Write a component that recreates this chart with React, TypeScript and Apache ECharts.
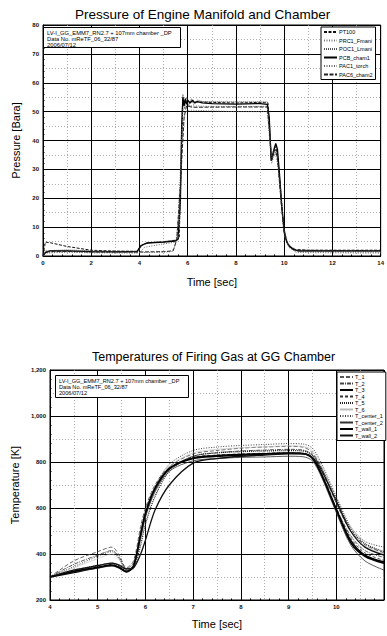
import React, { useEffect, useRef } from "react";
import * as echarts from "echarts";

// ---------- Top chart: pressure ----------
const pressureTitle = "Pressure of Engine Manifold and Chamber";
const pressureNames = ["PT100", "PRC1_Fmani", "POC1_Lmani", "PCB_cham1", "PAC1_torch", "PAC6_cham2"];
const PT100: number[][] = [[0,0.3],[0.1,4.8],[0.3,4.6],[1,3.3],[2,2.0],[3,1.7],[3.9,1.6],[4.1,3.8],[4.4,4.6],[5,4.9],[5.5,5.4],[5.65,6.2],[5.72,30],[5.8,53],[5.9,54],[6,53.5],[7,53.2],[8,53],[9,53.2],[9.33,53],[9.42,40],[9.48,33],[9.6,37],[9.66,38],[9.75,33],[9.88,20],[10.0,8],[10.15,4],[10.4,2.3],[11,2],[14,2]];
const PRC1_Fmani: number[][] = [[0,0],[0.15,1.2],[1,1.5],[2,1.3],[4,1.2],[5,1.3],[5.35,1.5],[5.5,4],[5.6,12],[5.7,30],[5.8,45],[5.9,50],[6.1,50.5],[8,50],[9.3,50],[9.4,40],[9.48,32],[9.62,36],[9.75,31],[9.9,16],[10.0,7],[10.2,3],[10.5,1.5],[14,1.3]];
const POC1_Lmani: number[][] = [[0,0],[0.1,1.8],[1,2.1],[2,1.8],[3,1.6],[3.95,1.7],[4.15,4.2],[4.5,4.7],[5,5],[5.55,5.6],[5.68,15],[5.75,45],[5.8,56],[5.87,51],[5.95,55],[6.05,52],[6.15,54.5],[6.25,52.5],[6.4,54],[6.6,53.5],[8,53.4],[9.3,53.4],[9.4,45],[9.47,34],[9.6,38],[9.7,37],[9.82,26],[9.95,13],[10.05,6],[10.3,2.5],[10.6,1.6],[14,1.5]];
const PCB_cham1: number[][] = [[0,0],[0.1,1.2],[0.3,1.8],[1,1.8],[2,1.5],[3,1.4],[3.9,1.5],[4.05,3.5],[4.3,4.5],[5,4.8],[5.5,5.2],[5.6,5.8],[5.7,20],[5.75,45],[5.8,55],[5.85,52],[5.9,54.5],[5.95,52.5],[6.0,54],[6.1,53],[6.2,54],[6.3,53],[6.4,53.5],[6.6,53],[7,52.8],[8,52.6],[9,52.8],[9.3,52.5],[9.38,48],[9.46,33],[9.55,36],[9.65,39],[9.72,37],[9.8,29],[9.9,17],[10.0,9],[10.1,5],[10.2,3.5],[10.4,2.2],[10.6,1.8],[12,1.8],[14,1.8]];
const PAC1_torch: number[][] = [[0,0],[0.1,1],[1,1.3],[2,1.1],[4,1.0],[4.2,3],[5,4.2],[5.5,4.8],[5.65,8],[5.72,35],[5.8,51],[6,52],[7,51.8],[9.3,51.8],[9.4,42],[9.47,34],[9.6,37],[9.7,35],[9.85,22],[9.97,10],[10.2,3],[10.5,1.2],[14,1.0]];
const PAC6_cham2: number[][] = [[0,0],[0.1,1.5],[1,1.6],[2,1.4],[4,1.4],[5,1.5],[5.4,1.8],[5.55,6],[5.7,25],[5.85,48],[5.95,52],[6.2,51.5],[8,51.6],[9.3,51.6],[9.4,42],[9.47,33],[9.62,37],[9.72,34],[9.88,18],[10.0,8],[10.15,4],[10.5,2],[14,1.8]];
const pressureData = [PT100, PRC1_Fmani, POC1_Lmani, PCB_cham1, PAC1_torch, PAC6_cham2];
const pressureInfo = "LV-I_GG_EMM7_RN2.7 + 107mm chamber _DP\nData No. mReTF_06_32/87\n2006/07/12";

// ---------- Bottom chart: temperature ----------
const tempTitle = "Temperatures of Firing Gas at GG Chamber";
const tempNames = ["T_1", "T_2", "T_3", "T_4", "T_5", "T_6", "T_center_1", "T_center_2", "T_wall_1", "T_wall_2"];
const tempTime = [4, 4.5, 5, 5.3, 5.45, 5.6, 5.75, 5.9, 6.0, 6.2, 6.5, 7, 7.5, 8, 8.5, 9, 9.3, 9.5, 9.7, 10, 10.3, 10.6, 11];
const T_1 = [300, 370, 410, 430, 395, 340, 370, 520, 600, 700, 780, 835, 850, 860, 865, 868, 865, 840, 770, 620, 500, 440, 405];
const T_2 = [300, 355, 395, 415, 385, 335, 360, 500, 590, 690, 770, 825, 840, 848, 852, 855, 852, 830, 760, 600, 480, 415, 385];
const T_3 = [300, 320, 340, 350, 340, 322, 345, 480, 570, 680, 770, 815, 825, 830, 835, 838, 836, 815, 740, 590, 450, 390, 360];
const T_4 = [300, 325, 345, 355, 345, 325, 350, 490, 580, 690, 775, 820, 830, 835, 838, 840, 838, 820, 745, 600, 470, 405, 372];
const T_5 = [300, 330, 350, 360, 350, 330, 340, 440, 530, 650, 760, 825, 840, 845, 848, 850, 848, 830, 770, 640, 510, 445, 410];
const T_6 = [300, 340, 380, 400, 375, 330, 345, 470, 560, 680, 780, 840, 855, 862, 866, 870, 868, 850, 780, 630, 500, 435, 400];
const T_center_1 = [300, 345, 390, 410, 380, 335, 350, 480, 570, 690, 790, 850, 865, 872, 876, 880, 878, 860, 790, 650, 520, 455, 430];
const T_center_2 = [300, 322, 338, 348, 338, 322, 345, 470, 560, 670, 760, 805, 815, 820, 822, 825, 823, 805, 730, 580, 440, 370, 330];
const T_wall_1 = [300, 325, 342, 352, 342, 325, 348, 485, 575, 685, 772, 818, 828, 833, 836, 839, 837, 818, 742, 595, 460, 395, 365];
const T_wall_2 = [300, 330, 350, 360, 352, 335, 340, 400, 460, 590, 700, 795, 815, 825, 830, 835, 835, 820, 760, 630, 500, 430, 395];
const tempData = [T_1, T_2, T_3, T_4, T_5, T_6, T_center_1, T_center_2, T_wall_1, T_wall_2];
const tempInfo = "LV-I_GG_EMM7_RN2.7 + 107mm chamber _DP\nData No. mReTF_06_32/87\n2006/07/12";

const FONT = "Liberation Sans";

const pressureStyles = [
  { type: [3, 1.5], color: "#111", width: 1 },
  { type: [1, 1.5], color: "#777", width: 1 },
  { type: [1, 1], color: "#555", width: 1 },
  { type: "solid", color: "#000", width: 1.3 },
  { type: [1, 1.5], color: "#666", width: 1 },
  { type: [4, 1.5], color: "#222", width: 1 },
];
const tempStyles = [
  { type: [4, 2], color: "#555", width: 0.9 },
  { type: [4, 1, 1, 1], color: "#444", width: 0.9 },
  { type: "solid", color: "#000", width: 1.6 },
  { type: [3, 2], color: "#333", width: 0.9 },
  { type: [1, 1], color: "#222", width: 1.3 },
  { type: "solid", color: "#bbb", width: 0.6 },
  { type: [1, 1.5], color: "#444", width: 1 },
  { type: "solid", color: "#333", width: 0.8 },
  { type: "solid", color: "#000", width: 1.5 },
  { type: "solid", color: "#111", width: 1.3 },
];

export default function App() {
  const ref = useRef<HTMLDivElement>(null);
  useEffect(() => {
    if (!ref.current) return;
    const chart = echarts.init(ref.current, null, { renderer: "svg" });
    const axisLabel = { fontSize: 6, color: "#111", fontFamily: FONT, fontWeight: "bold" as const, margin: 4 };
    const minorSplit = { show: true, lineStyle: { color: "#999", type: [1, 2], width: 0.8 } };
    const majorSplit = { show: true, lineStyle: { color: "#000", width: 1 } };
    const hiddenBits = { axisLine: { show: false }, axisTick: { show: false }, axisLabel: { show: false } };
    const axisLine = { show: true, onZero: false, lineStyle: { color: "#000", width: 1 } };
    const axisTick = { show: true, inside: true, length: 3, lineStyle: { color: "#000" } };
    const minorTick = { show: true, splitNumber: 5, length: 1.5, lineStyle: { color: "#000" } };
    const nameStyle = { fontSize: 11, fontFamily: FONT, color: "#000" };

    const series: any[] = [];
    pressureNames.forEach((n, i) => {
      series.push({
        name: n, type: "line", xAxisIndex: 1, yAxisIndex: 1, data: pressureData[i],
        symbol: "none", lineStyle: pressureStyles[i], itemStyle: { color: pressureStyles[i].color },
      });
    });
    tempNames.forEach((n, i) => {
      series.push({
        name: n, type: "line", xAxisIndex: 3, yAxisIndex: 3, smooth: 0.3,
        data: tempTime.map((t, k) => [t, tempData[i][k]]),
        symbol: "none", lineStyle: tempStyles[i], itemStyle: { color: tempStyles[i].color },
      });
    });

    const legendCommon = {
      orient: "vertical", itemWidth: 13, backgroundColor: "#fff", borderColor: "#000", borderWidth: 1,
      itemStyle: { opacity: 0 }, padding: [2, 3, 2, 2],
    };

    chart.setOption({
      animation: false,
      backgroundColor: "#fff",
      title: [
        { text: pressureTitle, left: 70, top: 2, textStyle: { fontSize: 13.5, fontWeight: "normal", fontFamily: FONT, color: "#000" } },
        { text: tempTitle, left: 87, top: 345, textStyle: { fontSize: 12.5, fontWeight: "normal", fontFamily: FONT, color: "#000" } },
      ],
      grid: [
        { left: 43, top: 25, width: 339, height: 231, show: true, borderColor: "#000", borderWidth: 1 },
        { left: 50, top: 370, width: 341, height: 230, show: true, borderColor: "#000", borderWidth: 1 },
      ],
      xAxis: [
        { type: "value", gridIndex: 0, position: "top", min: 0, max: 14, interval: 1, splitLine: minorSplit, ...hiddenBits },
        { type: "value", gridIndex: 0, position: "bottom", min: 0, max: 14, interval: 2, splitLine: majorSplit, axisLine, axisTick, minorTick, axisLabel,
          name: "Time [sec]", nameLocation: "middle", nameGap: 20, nameTextStyle: nameStyle },
        { type: "value", gridIndex: 1, position: "top", min: 4, max: 11, interval: 0.5, splitLine: minorSplit, ...hiddenBits },
        { type: "value", gridIndex: 1, position: "bottom", min: 4, max: 11, interval: 1, splitLine: majorSplit, axisLine, axisTick, minorTick,
          axisLabel: { ...axisLabel, formatter: (v: number) => (v >= 11 ? "" : String(v)) },
          name: "Time [sec]", nameLocation: "middle", nameGap: 18, nameTextStyle: nameStyle },
      ],
      yAxis: [
        { type: "value", gridIndex: 0, position: "right", min: 0, max: 80, interval: 5, splitLine: minorSplit, ...hiddenBits },
        { type: "value", gridIndex: 0, position: "left", min: 0, max: 80, interval: 10, splitLine: majorSplit, axisLine, axisTick, minorTick, axisLabel,
          name: "Pressure [Bara]", nameLocation: "middle", nameGap: 19, nameTextStyle: nameStyle },
        { type: "value", gridIndex: 1, position: "right", min: 200, max: 1200, interval: 100, splitLine: minorSplit, ...hiddenBits },
        { type: "value", gridIndex: 1, position: "left", min: 200, max: 1200, interval: 200, splitLine: majorSplit, axisLine, axisTick, minorTick,
          axisLabel: { ...axisLabel, formatter: (v: number) => v.toLocaleString("en-US") },
          name: "Temperature [K]", nameLocation: "middle", nameGap: 24, nameTextStyle: nameStyle },
      ],
      legend: [
        { ...legendCommon, data: pressureNames, left: 321, top: 27, itemHeight: 6, itemGap: 2.5,
          textStyle: { fontSize: 5.5, fontFamily: FONT, color: "#000", padding: [0, 0, 0, -3] } },
        { ...legendCommon, data: tempNames, left: 337, top: 372, itemHeight: 5, itemGap: 0.5,
          textStyle: { fontSize: 5.5, fontFamily: FONT, color: "#000", lineHeight: 5.3, padding: [0, 0, 0, -3] } },
      ],
      graphic: [
        { type: "rect", z: 50, shape: { x: 43.5, y: 27.5, width: 137, height: 20 }, style: { fill: "#fff", stroke: "#000", lineWidth: 1 } },
        { type: "text", z: 51, x: 47, y: 29.5, style: { text: pressureInfo, font: `5.8px '${FONT}'`, lineHeight: 6, fill: "#000" } },
        { type: "rect", z: 50, shape: { x: 55.5, y: 375.5, width: 133, height: 22 }, style: { fill: "#fff", stroke: "#000", lineWidth: 1 } },
        { type: "text", z: 51, x: 59, y: 378, style: { text: tempInfo, font: `5.6px '${FONT}'`, lineHeight: 6, fill: "#000" } },
      ],
      series,
    });
    return () => chart.dispose();
  }, []);
  return <div ref={ref} style={{ position: "fixed", left: 0, top: 0, width: 387, height: 636, background: "#fff" }} />;
}
